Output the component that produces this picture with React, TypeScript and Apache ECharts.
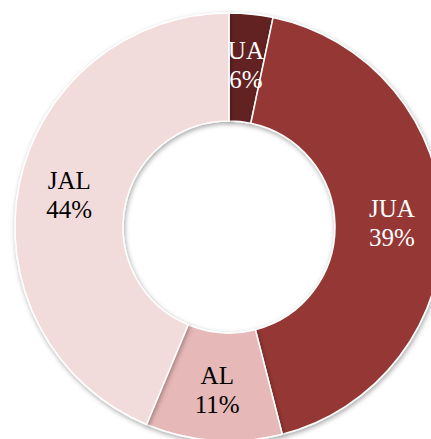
import React, { useEffect, useRef } from "react";
import * as echarts from "echarts";

const categories = ["UA", "JUA", "AL", "JAL"];
const values = [3.3, 42.7, 10.3, 43.7];
const labelPercents = ["6%", "39%", "11%", "44%"];
const colors = ["#642222", "#953735", "#e6b8b7", "#f2dcdb"];
const labelColors = ["#ffffff", "#ffffff", "#000000", "#000000"];

export default function App() {
  const ref = useRef<HTMLDivElement>(null);
  useEffect(() => {
    document.body.style.margin = "0";
    const chart = echarts.init(ref.current!, null, { renderer: "svg" });
    chart.setOption({
      animation: false,
      backgroundColor: "#ffffff",
      series: [
        {
          type: "pie",
          center: [229, 227],
          radius: [106, 214],
          startAngle: 90,
          clockwise: true,
          avoidLabelOverlap: false,
          emphasis: { disabled: true },
          itemStyle: {
            borderColor: "#ffffff",
            borderWidth: 1.5,
            shadowBlur: 5,
            shadowOffsetX: 1,
            shadowOffsetY: 2,
            shadowColor: "rgba(0,0,0,0.35)",
          },
          label: {
            show: true,
            position: "inside",
            fontFamily: "'Liberation Serif', 'Times New Roman', serif",
            fontSize: 25,
            lineHeight: 29,
            align: "center",
          },
          labelLine: { show: false },
          data: categories.map((c, i) => ({
            name: c,
            value: values[i],
            itemStyle: { color: colors[i] },
            label: {
              color: labelColors[i],
              formatter: `${c}\n${labelPercents[i]}`,
            },
          })),
        },
      ],
    });
    return () => chart.dispose();
  }, []);
  return <div ref={ref} style={{ width: 431, height: 439 }} />;
}
